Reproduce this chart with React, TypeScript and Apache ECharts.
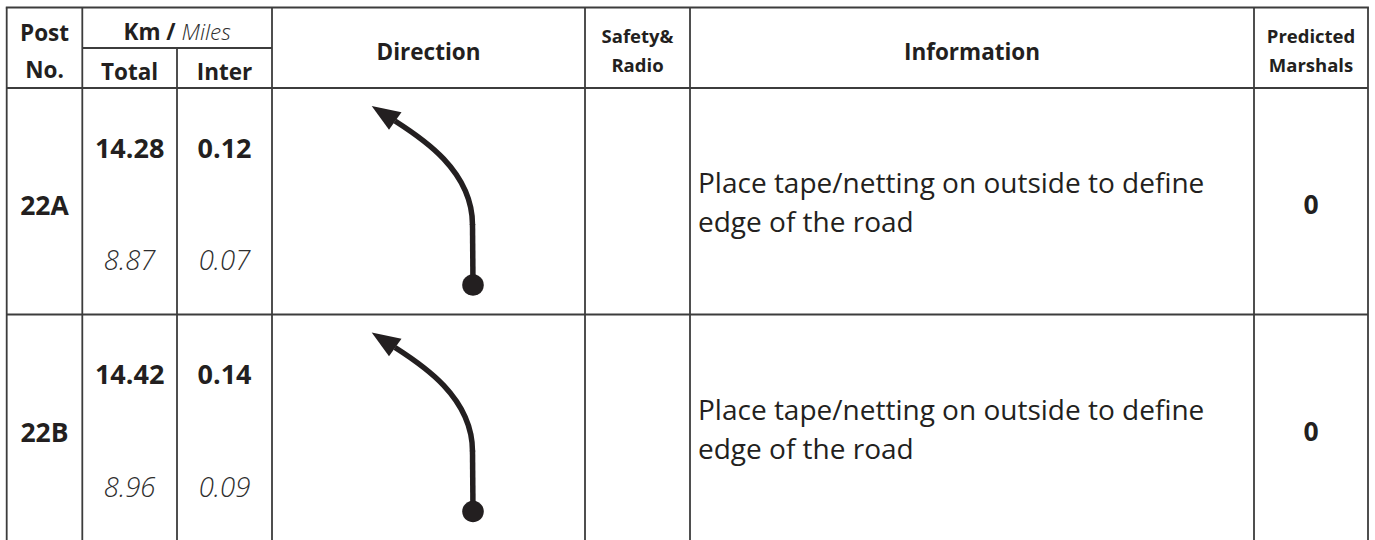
import React, { useEffect, useRef } from 'react';
import * as echarts from 'echarts';

// ---- data ----
const postNumbers = ['22A', '22B'];
const totalKm = [14.28, 14.42];
const interKm = [0.12, 0.14];
const totalMiles = [8.87, 8.96];
const interMiles = [0.07, 0.09];
const safetyRadio = ['', ''];
const information = [
  'Place tape/netting on outside to define\nedge of the road',
  'Place tape/netting on outside to define\nedge of the road',
];
const predictedMarshals = [0, 0];

// ---- layout ----
const W = 1375;
const H = 540;
const X = { left: 6.7, post: 82.3, total: 177, km: 272, dir: 585, safety: 690, info: 1254, right: 1368 };
const Y = { top: 7.5, sub: 48, head: 88 };
const ROW_H = 226.5;
const LINE = '#3c3c3c';
const INK = '#231f20';
const SOFT = '#2e2e2e';
const FONT = '"Open Sans", "Noto Sans", sans-serif';

function txt(x: number, y: number, text: string, o: any = {}) {
  const align = o.align || 'center';
  return {
    type: 'text',
    x,
    y,
    silent: true,
    style: {
      text,
      fill: o.fill || INK,
      fontFamily: FONT,
      fontSize: o.size || 22.5,
      fontWeight: o.weight || 'bold',
      fontStyle: o.style || 'normal',
      lineHeight: o.lineHeight,
      rich: o.rich,
      align,
      textAlign: align,
      verticalAlign: 'middle',
      textVerticalAlign: 'middle',
    },
  };
}

function line(x1: number, y1: number, x2: number, y2: number, w = 1.8) {
  return {
    type: 'line',
    silent: true,
    shape: { x1, y1, x2, y2 },
    style: { stroke: LINE, lineWidth: w },
  };
}

function arrowIcon() {
  // turn arrow glyph, local coordinates inside a row
  return [
    {
      type: 'bezierCurve',
      silent: true,
      shape: { x1: 395, y1: 33, cpx1: 420, cpy1: 49, cpx2: 472.5, cpy2: 82, x2: 472.5, y2: 137 },
      style: { stroke: INK, lineWidth: 5.5, fill: 'none' },
    },
    {
      type: 'line',
      silent: true,
      shape: { x1: 472.5, y1: 136, x2: 473, y2: 197 },
      style: { stroke: INK, lineWidth: 5.5 },
    },
    {
      type: 'polygon',
      silent: true,
      shape: { points: [[371.7, 18], [401.5, 24.2], [389, 41.8]] },
      style: { fill: INK },
    },
    {
      type: 'circle',
      silent: true,
      shape: { cx: 473, cy: 197, r: 10.8 },
      style: { fill: INK },
    },
  ];
}

function buildElements() {
  const els: any[] = [];
  const bottom = H + 2;
  // grid lines
  els.push(line(X.left - 0.9, Y.top, X.right + 0.9, Y.top, 2));
  els.push(line(X.post, Y.sub, X.km, Y.sub));
  els.push(line(X.left, Y.head, X.right, Y.head));
  postNumbers.forEach((_, i) => {
    if (i > 0) {
      const y = Y.head + ROW_H * i;
      els.push(line(X.left, y, X.right, y));
    }
  });
  [X.left, X.post, X.km, X.dir, X.safety, X.info, X.right].forEach((x) => els.push(line(x, Y.top, x, bottom)));
  els.push(line(X.total, Y.sub, X.total, bottom));

  // header
  const cPost = (X.left + X.post) / 2;
  const cTotal = (X.post + X.total) / 2;
  const cInter = (X.total + X.km) / 2;
  const cKm = (X.post + X.km) / 2;
  const cDir = (X.km + X.dir) / 2;
  const cSafety = (X.dir + X.safety) / 2;
  const cInfo = (X.safety + X.info) / 2;
  const cPred = (X.info + X.right) / 2;

  els.push(txt(cPost, 32, 'Post'));
  els.push(txt(cPost, 69, 'No.'));
  els.push(
    txt(cKm, 31.5, '{b|Km /} {i|Miles}', {
      rich: {
        b: { fontFamily: FONT, fontSize: 22.5, fontWeight: 'bold', fill: INK },
        i: { fontFamily: FONT, fontSize: 22.5, fontWeight: 300, fontStyle: 'italic', fill: SOFT },
      },
    })
  );
  els.push(txt(cTotal, 71, 'Total'));
  els.push(txt(cInter, 71, 'Inter'));
  els.push(txt(cDir, 51, 'Direction'));
  els.push(txt(cSafety, 35, 'Safety&', { size: 18.5 }));
  els.push(txt(cSafety, 64.5, 'Radio', { size: 18.5 }));
  els.push(txt(cInfo, 51, 'Information'));
  els.push(txt(cPred, 35, 'Predicted', { size: 18.5 }));
  els.push(txt(cPred, 64, 'Marshals', { size: 18.5 }));

  // rows
  postNumbers.forEach((post, i) => {
    const top = Y.head + ROW_H * i;
    const children: any[] = [];
    children.push(txt(cPost, 117, post, { size: 26.5 }));
    children.push(txt(cTotal, 59, totalKm[i].toFixed(2), { size: 27 }));
    children.push(txt(cInter, 59, interKm[i].toFixed(2), { size: 27 }));
    children.push(txt(cTotal, 171.5, totalMiles[i].toFixed(2), { size: 27.5, weight: 300, style: 'italic', fill: SOFT }));
    children.push(txt(cInter, 171.5, interMiles[i].toFixed(2), { size: 27.5, weight: 300, style: 'italic', fill: SOFT }));
    children.push(...arrowIcon());
    if (safetyRadio[i]) children.push(txt(cSafety, 114, safetyRadio[i], { size: 22 }));
    children.push(txt(X.safety + 8, 113.5, information[i], { size: 28, weight: 'normal', align: 'left', lineHeight: 39 }));
    children.push(txt(cPred, 116, String(predictedMarshals[i]), { size: 26.5 }));
    els.push({ type: 'group', x: 0, y: top, children });
  });
  return els;
}

export default function App() {
  const ref = useRef<HTMLDivElement>(null);
  useEffect(() => {
    document.body.style.margin = '0';
    if (!ref.current) return;
    const chart = echarts.init(ref.current, null, { renderer: 'svg', width: W, height: H });
    chart.setOption({
      animation: false,
      backgroundColor: '#ffffff',
      graphic: { elements: buildElements() },
    });
    return () => chart.dispose();
  }, []);
  return <div ref={ref} style={{ width: W, height: H, background: '#fff' }} />;
}
